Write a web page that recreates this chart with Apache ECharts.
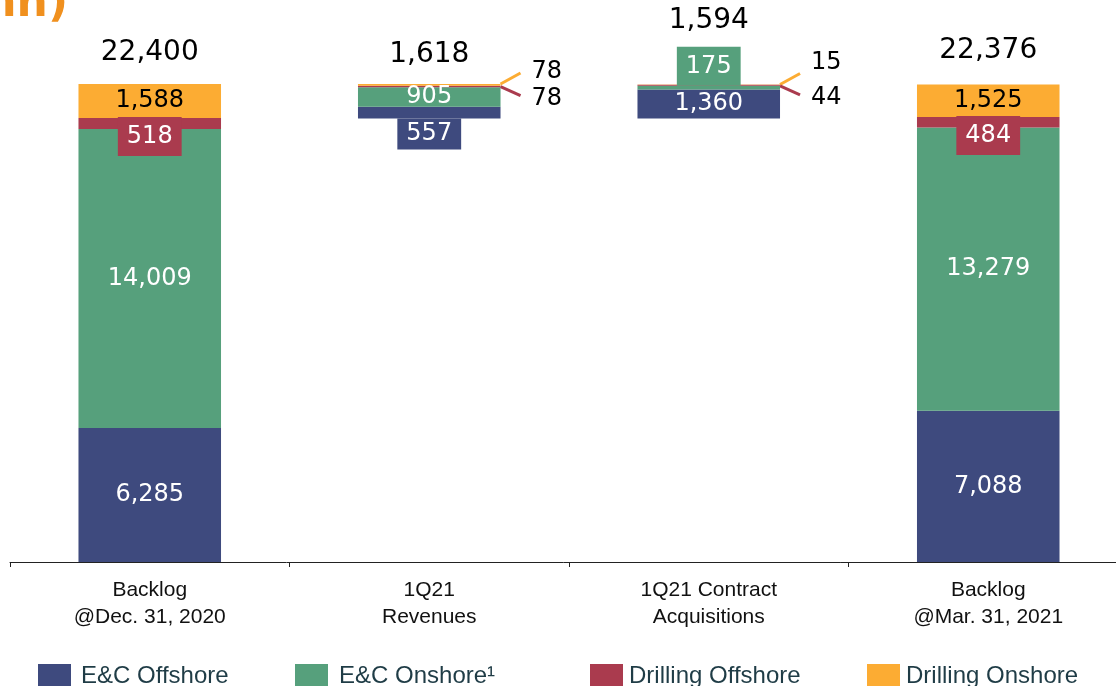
<!DOCTYPE html>
<html>
<head>
<meta charset="utf-8">
<title>Backlog</title>
<script src="https://cdn.jsdelivr.net/npm/echarts@6/dist/echarts.min.js"></script>
<style>
  html, body { margin: 0; padding: 0; background: #fff; }
  #chart { width: 1116px; height: 686px; }
</style>
</head>
<body>
<div id="chart"></div>
<script>
// 数据
const categories = ['Backlog\n@Dec. 31, 2020', '1Q21\nRevenues', '1Q21 Contract\nAcquisitions', 'Backlog\n@Mar. 31, 2021'];
const ecOffshore = [6285, 557, 1360, 7088];
const ecOnshore = [14009, 905, 175, 13279];
const drillOffshore = [518, 78, 44, 484];
const drillOnshore = [1588, 78, 15, 1525];
const totals = [22400, 1618, 1594, 22376];
const seriesNames = ['E&C Offshore', 'E&C Onshore\u00b9', 'Drilling Offshore', 'Drilling Onshore'];

// 瀑布图底座：收入从期初往下扣，新签合同在其上累加
const base = [0, totals[0] - totals[1], totals[0] - totals[1], 0];
const tops = base.map((b, i) => b + totals[i]);

const NAVY = '#3e4a7e';
const GREEN = '#56a07c';
const RED = '#aa3b4e';
const ORANGE = '#fcac33';
const NUM_FONT = '"DejaVu Sans", sans-serif';
const TXT_FONT = '"Liberation Sans", Arial, sans-serif';

const fmt = v => v.toLocaleString('en-US');

const inside = (color) => ({
  show: true, position: 'inside', color: color,
  fontFamily: NUM_FONT, fontSize: 24, formatter: p => fmt(p.value)
});
const box = (bg, position, distance) => ({
  show: true, position: position, distance: distance, color: '#fff',
  backgroundColor: bg, padding: [6, 9, 5, 9], lineHeight: 28,
  fontFamily: NUM_FONT, fontSize: 24, formatter: p => fmt(p.value)
});
const side = (dy) => ({
  show: true, position: 'right', distance: 31, offset: [0, dy], color: '#000',
  fontFamily: NUM_FONT, fontSize: 24, formatter: p => fmt(p.value)
});

// 每个系列每根柱子的标签样式
const labelRules = [
  i => i === 1 ? Object.assign(box(NAVY, 'bottom', 0), { padding: [2, 9, 2, 9], lineHeight: 27 }) : inside('#fff'),
  i => i === 2 ? box(GREEN, 'top', 0) : inside('#fff'),
  i => i === 1 || i === 2 ? side(12) : box(RED, 'insideTop', -1),
  i => i === 1 ? side(-13) : i === 2 ? side(-22) : inside('#000')
];
const colors = [NAVY, GREEN, RED, ORANGE];
const values = [ecOffshore, ecOnshore, drillOffshore, drillOnshore];

const barSeries = values.map((arr, s) => ({
  name: seriesNames[s],
  type: 'bar',
  stack: 'a',
  barWidth: '51%',
  itemStyle: { color: colors[s] },
  data: arr.map((v, i) => ({ value: v, label: labelRules[s](i) }))
}));

const totalDistance = [17, 15, 50, 20];

const chartDom = document.getElementById('chart');
const myChart = echarts.init(chartDom);

const option = {
  animation: false,
  color: colors,
  grid: { left: 10, width: 1118, top: 84, bottom: 124, outerBoundsMode: 'none', containLabel: false },
  xAxis: {
    type: 'category',
    data: categories,
    axisLine: { lineStyle: { color: '#222', width: 1 } },
    axisTick: { show: true, length: 5, lineStyle: { color: '#222' } },
    axisLabel: {
      color: '#111', fontFamily: TXT_FONT, fontSize: 21, lineHeight: 27, margin: 15
    }
  },
  yAxis: { type: 'value', min: 0, max: 22400, show: false },
  legend: seriesNames.map((n, k) => ({
    data: [n],
    left: [33, 290, 585, 862][k],
    top: 659,
    itemWidth: 33,
    itemHeight: 24,
    icon: 'rect',
    selectedMode: false,
    textStyle: { color: '#1f3c46', fontFamily: TXT_FONT, fontSize: 24, padding: [0, 0, 0, [5, 6, 1, 1][k]] }
  })),
  graphic: [{
    type: 'text', x: 68, y: 27,
    style: { text: 'mn)', align: 'right', verticalAlign: 'bottom', font: 'bold 44px "DejaVu Sans"', fill: '#f0901e' }
  }],
  series: [
    {
      name: 'base', type: 'bar', stack: 'a', barWidth: '51%', silent: true,
      itemStyle: { color: 'transparent' }, data: base
    },
    ...barSeries,
    {
      // 小数值的引导线
      name: 'guide', type: 'custom', silent: true,
      data: [1, 2].map(i => [i, tops[i], tops[i] - drillOnshore[i]]),
      renderItem: (params, api) => {
        const halfW = api.size([1, 0])[0] * 0.255;
        const a = api.coord([api.value(0), api.value(1)]);
        const b = api.coord([api.value(0), api.value(2)]);
        const x = a[0] + halfW;
        return {
          type: 'group',
          children: [
            { type: 'line', shape: { x1: x, y1: a[1], x2: x + 20, y2: a[1] - 11 }, style: { stroke: ORANGE, lineWidth: 3 } },
            { type: 'line', shape: { x1: x, y1: b[1] + 1, x2: x + 20, y2: b[1] + 10 }, style: { stroke: RED, lineWidth: 3 } }
          ]
        };
      }
    },
    {
      name: 'total', type: 'scatter', symbolSize: 0, silent: true,
      itemStyle: { opacity: 1 },
      data: tops.map((t, i) => ({
        value: [i, t],
        label: {
          show: true, position: 'top', distance: totalDistance[i], color: '#000',
          fontFamily: NUM_FONT, fontSize: 28, formatter: () => fmt(totals[i])
        }
      }))
    }
  ]
};

myChart.setOption(option);
</script>
</body>
</html>
